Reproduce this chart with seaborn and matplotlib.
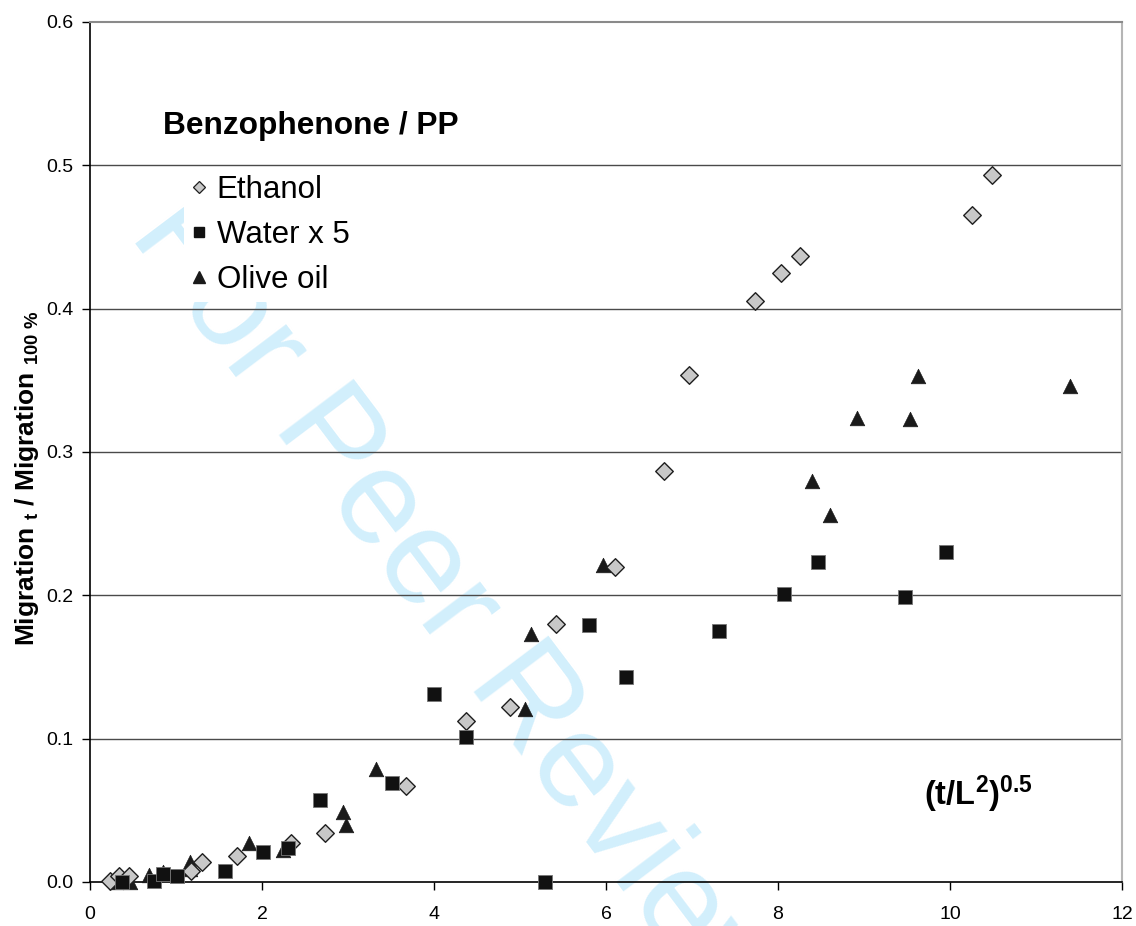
import matplotlib
matplotlib.use("Agg")
import matplotlib.pyplot as plt
from matplotlib.lines import Line2D
import numpy as np
import pandas as pd
import seaborn as sns

# Benzophenone migration from PP into three simulants
ethanol_x = [0.23, 0.34, 0.45, 1.18, 1.30, 1.71, 2.34, 2.73, 3.67, 4.37,
             4.88, 5.42, 6.10, 6.67, 6.96, 7.73, 8.04, 8.26, 10.26, 10.49]
ethanol_y = [0.001, 0.004, 0.004, 0.008, 0.014, 0.018, 0.027, 0.034, 0.067, 0.112,
             0.122, 0.180, 0.220, 0.287, 0.354, 0.405, 0.425, 0.437, 0.465, 0.493]

water_x = [0.37, 0.74, 0.85, 1.01, 1.57, 2.01, 2.30, 2.67, 3.51, 4.00,
           4.37, 5.29, 5.80, 6.23, 7.31, 8.07, 8.47, 9.48, 9.95]
water_y = [0.0, 0.001, 0.0055, 0.004, 0.008, 0.021, 0.024, 0.057, 0.069, 0.131,
           0.101, 0.0, 0.179, 0.143, 0.175, 0.201, 0.223, 0.199, 0.230]

olive_x = [0.30, 0.47, 0.69, 0.85, 1.16, 1.16, 1.85, 2.24, 2.94, 2.98,
           3.33, 5.06, 5.13, 5.97, 8.39, 8.60, 8.92, 9.54, 9.63, 11.39]
olive_y = [0.0, 0.0, 0.005, 0.007, 0.014, 0.009, 0.027, 0.022, 0.049, 0.040,
           0.079, 0.121, 0.173, 0.221, 0.280, 0.256, 0.324, 0.323, 0.353, 0.346]

series_labels = ["Ethanol", "Water x 5", "Olive oil"]
x_ticks = [0, 2, 4, 6, 8, 10, 12]
y_ticks = [0.0, 0.1, 0.2, 0.3, 0.4, 0.5, 0.6]

sns.set_theme(style="white")
plt.rcParams["font.family"] = ["Liberation Sans", "DejaVu Sans"]
plt.rcParams["text.color"] = "black"
plt.rcParams["axes.labelcolor"] = "black"
plt.rcParams["xtick.color"] = "black"
plt.rcParams["ytick.color"] = "black"
plt.rcParams["mathtext.fontset"] = "custom"
plt.rcParams["mathtext.rm"] = "Liberation Sans"
plt.rcParams["mathtext.bf"] = "Liberation Sans:bold"
plt.rcParams["mathtext.it"] = "Liberation Sans:italic"

W, H = 1136, 926
fig = plt.figure(figsize=(W / 100, H / 100), dpi=100)
fig.patch.set_facecolor("white")
ax = fig.add_axes([90 / W, (H - 882) / H, 1032 / W, 860 / H])
ax.set_facecolor("none")

# Review watermark sits underneath the plot
fig.text(128 / W, 1 - 234 / H, "For Peer Review", rotation=-53,
         rotation_mode="anchor", ha="left", va="baseline",
         fontsize=97, color="#d2effc", zorder=-1)

eth = pd.DataFrame({"x": ethanol_x, "y": ethanol_y})
wat = pd.DataFrame({"x": water_x, "y": water_y})
oil = pd.DataFrame({"x": olive_x, "y": olive_y})

sns.scatterplot(data=oil, x="x", y="y", ax=ax, marker="^", s=110,
                color="#1a1a1a", edgecolor="#1a1a1a", linewidth=0.5,
                zorder=3, clip_on=False)
sns.scatterplot(data=eth, x="x", y="y", ax=ax, marker="D", s=80,
                color="#c8c8c8", edgecolor="#1e1e1e", linewidth=1.0,
                zorder=4, clip_on=False)
sns.scatterplot(data=wat, x="x", y="y", ax=ax, marker="s", s=90,
                color="#111111", edgecolor="#777777", linewidth=0.6,
                zorder=5, clip_on=False)

ax.set_xlim(0, 12)
ax.set_ylim(0, 0.6)
ax.set_xticks(x_ticks)
ax.set_xticklabels([f"{v:d}" for v in x_ticks])
ax.set_yticks(y_ticks)
ax.set_yticklabels([f"{v:.1f}" for v in y_ticks])
ax.set_xlabel("")
ax.set_ylabel("")

ax.tick_params(axis="both", direction="out", length=6, width=1, color="black",
               labelsize=14, labelcolor="black")
ax.tick_params(axis="x", pad=11, bottom=True)
ax.tick_params(axis="y", pad=6, left=True)

ax.yaxis.grid(True, color="#4a4a4a", linewidth=1.0)
ax.xaxis.grid(False)
ax.set_axisbelow(True)
for gl, v in zip(ax.yaxis.get_gridlines(), y_ticks):
    if v in (0.0, 0.6):
        gl.set_visible(False)

for side in ("left", "bottom"):
    ax.spines[side].set_color("black")
    ax.spines[side].set_linewidth(1.2)
ax.spines["top"].set_color("#8a8a8a")
ax.spines["top"].set_linewidth(1.5)
ax.spines["right"].set_color("#b5b5b5")
ax.spines["right"].set_linewidth(1.5)

handles = [
    Line2D([], [], linestyle="none", marker="D", markersize=6.5,
           markerfacecolor="#c8c8c8", markeredgecolor="#1e1e1e", markeredgewidth=0.9),
    Line2D([], [], linestyle="none", marker="s", markersize=7,
           markerfacecolor="#111111", markeredgecolor="#111111"),
    Line2D([], [], linestyle="none", marker="^", markersize=8.5,
           markerfacecolor="#1a1a1a", markeredgecolor="#1a1a1a"),
]
leg = ax.legend(handles=handles, labels=series_labels, loc="upper left",
                bbox_to_anchor=((184 - 90) / 1032, (882 - 169) / 860),
                frameon=True, fancybox=False, framealpha=1.0,
                facecolor="white", edgecolor="none", fontsize=22.5,
                handlelength=0.55, handletextpad=0.3, borderpad=0.2,
                labelspacing=0.48, borderaxespad=0.0)

fig.text(163 / W, 1 - 134 / H, "Benzophenone / PP", fontsize=22.8,
         fontweight="bold", ha="left", va="baseline")

fig.text(924 / W, 1 - 805 / H, r"$\mathbf{(t/L^{2})^{0.5}}$", fontsize=23.5,
         ha="left", va="baseline")

fig.text(27 / W, 1 - 478 / H,
         r"Migration $_{\mathbf{t}}$ / Migration $_{\mathbf{100\ \%}}$",
         rotation=90, fontsize=19, fontweight="bold", ha="center", va="center")

fig.savefig("out.png", dpi=100, facecolor="white")
